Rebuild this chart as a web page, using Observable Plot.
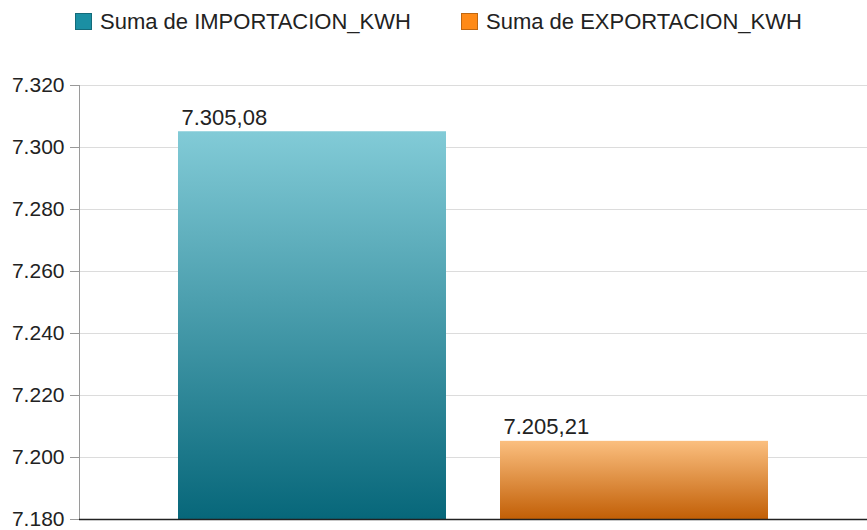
<!DOCTYPE html>
<html><head><meta charset="utf-8">
<script src="https://cdn.jsdelivr.net/npm/d3@7"></script>
<script src="https://cdn.jsdelivr.net/npm/@observablehq/plot@0.6"></script>
<style>
body{margin:0;background:#fff;font-family:"Liberation Sans",Arial,sans-serif;}
#legend{height:40px;position:relative;font-size:22px;color:#222;}
.item{position:absolute;top:9px;height:25px;display:flex;align-items:center;white-space:nowrap;}
.sw{width:17px;height:17px;margin-right:8px;box-sizing:border-box;border:1px solid rgba(0,0,0,0.25);}
</style>
</head><body>
<div id="legend"></div>
<div id="chart"></div>
<script>
const categories = ["IMPORTACION_KWH", "EXPORTACION_KWH"];
const seriesNames = ["Suma de IMPORTACION_KWH", "Suma de EXPORTACION_KWH"];
const values = [7305.08, 7205.21];
const yTicks = [7180, 7200, 7220, 7240, 7260, 7280, 7300, 7320];
const swatchColors = ["#1b8fa3", "#ff8a16"];
const gradTop = ["#82cbd7", "#fbbf7f"];
const gradBottom = ["#07677a", "#c25f06"];

const locale = d3.formatLocale({decimal: ",", thousands: ".", grouping: [3], currency: ["", "€"]});
const fmtTick = locale.format(",.0f");
const fmtVal = locale.format(",.2f");

const data = categories.map((c, i) => ({cat: c, value: values[i], grad: `url(#g${i})`}));

// legend
const legend = document.getElementById("legend");
const legendLeft = [75, 461];
seriesNames.forEach((s, i) => {
  const it = document.createElement("div");
  it.className = "item";
  it.style.left = legendLeft[i] + "px";
  it.innerHTML = `<span class="sw" style="background:${swatchColors[i]}"></span><span>${s}</span>`;
  legend.appendChild(it);
});

const chart = Plot.plot({
  width: 867,
  height: 490,
  marginTop: 45,
  marginBottom: 11,
  marginLeft: 79,
  marginRight: 0,
  style: {fontFamily: '"Liberation Sans", Arial, sans-serif', fontSize: "21px", color: "#222", background: "#fff", overflow: "visible"},
  x: {domain: categories, paddingInner: 0.168, paddingOuter: 0.3076, axis: null},
  y: {domain: [7180, 7320], ticks: yTicks, label: null},
  marks: [
    Plot.gridY(yTicks, {stroke: "#dcdcdc", strokeOpacity: 1}),
    Plot.barY(data.filter((d, i) => i === 0), {x: "cat", y1: 7180, y2: "value", fill: data[0].grad}),
    Plot.barY(data.filter((d, i) => i === 1), {x: "cat", y1: 7180, y2: "value", fill: data[1].grad}),
    Plot.text(data, {x: "cat", y: "value", text: d => fmtVal(d.value), textAnchor: "start", lineAnchor: "bottom", dx: -131, dy: -7, fontSize: 22, fill: "#222"}),
    Plot.axisY(yTicks, {tickFormat: fmtTick, tickSize: 9, tickPadding: 6, stroke: "#999", fontSize: 21, fill: "#222"}),
    Plot.frame({anchor: "left", stroke: "#9a9a9a"}),
    Plot.ruleY([7180], {stroke: "#222", strokeWidth: 1.3})
  ]
});

// gradients
const ns = "http://www.w3.org/2000/svg";
const defs = document.createElementNS(ns, "defs");
categories.forEach((c, i) => {
  const g = document.createElementNS(ns, "linearGradient");
  g.setAttribute("id", "g" + i);
  g.setAttribute("x1", "0"); g.setAttribute("y1", "0");
  g.setAttribute("x2", "0"); g.setAttribute("y2", "1");
  [[0, gradTop[i]], [1, gradBottom[i]]].forEach(([o, col]) => {
    const s = document.createElementNS(ns, "stop");
    s.setAttribute("offset", o);
    s.setAttribute("stop-color", col);
    g.appendChild(s);
  });
  defs.appendChild(g);
});
chart.insertBefore(defs, chart.firstChild);
document.getElementById("chart").appendChild(chart);
</script>
</body></html>
